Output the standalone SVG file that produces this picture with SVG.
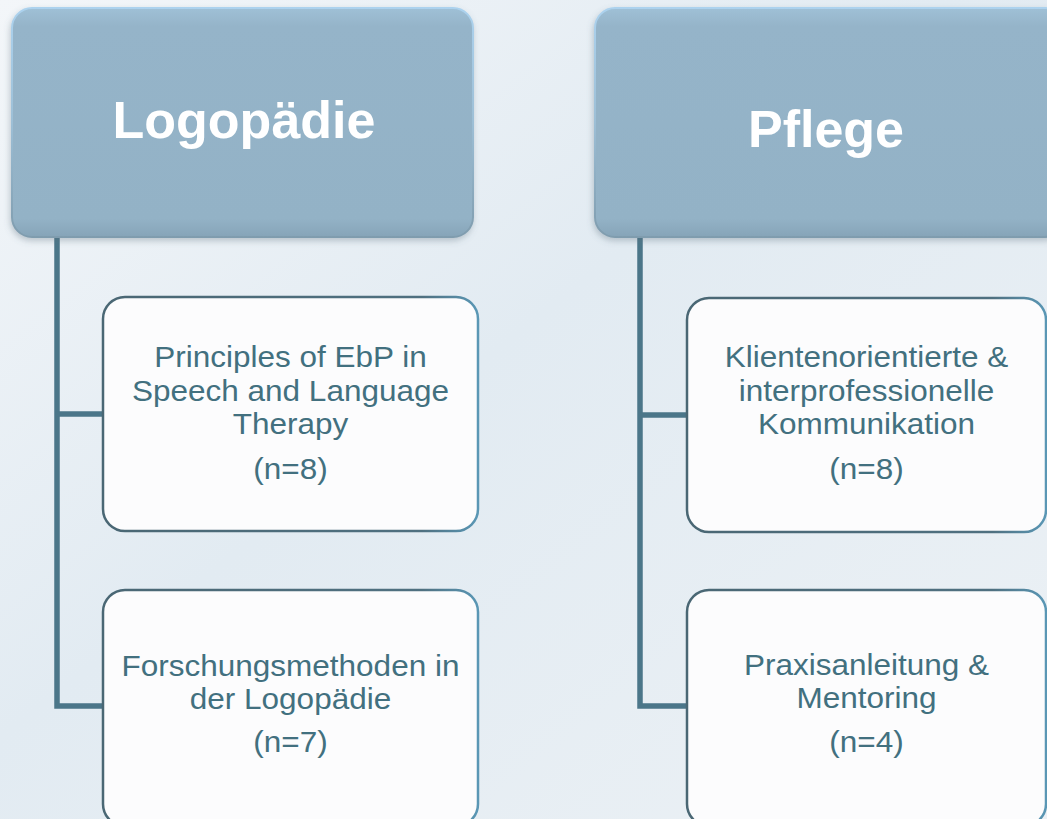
<svg xmlns="http://www.w3.org/2000/svg" width="1047" height="819" viewBox="0 0 1047 819">
  <defs>
    <linearGradient id="bg" x1="0" y1="0" x2="1" y2="1">
      <stop offset="0" stop-color="#f3f6f9"/>
      <stop offset="0.45" stop-color="#e2ebf2"/>
      <stop offset="1" stop-color="#ecf1f5"/>
    </linearGradient>
    <linearGradient id="hdrFill" x1="0" y1="0" x2="0" y2="1">
      <stop offset="0" stop-color="#9fc0d6"/>
      <stop offset="0.08" stop-color="#95b4c9"/>
      <stop offset="0.92" stop-color="#93b2c6"/>
      <stop offset="1" stop-color="#86a4b8"/>
    </linearGradient>
    <linearGradient id="hdrStroke" x1="0" y1="0" x2="0" y2="1">
      <stop offset="0" stop-color="#acd2ee"/>
      <stop offset="0.5" stop-color="#9dbfd6"/>
      <stop offset="1" stop-color="#7f9cae"/>
    </linearGradient>
    <linearGradient id="boxStroke" x1="0" y1="0" x2="1" y2="0">
      <stop offset="0" stop-color="#4a6774"/>
      <stop offset="0.85" stop-color="#4f7080"/>
      <stop offset="1" stop-color="#5a97b5"/>
    </linearGradient>
    <filter id="shadow" x="-10%" y="-10%" width="120%" height="125%">
      <feDropShadow dx="-1" dy="3" stdDeviation="3" flood-color="#5a6f7c" flood-opacity="0.35"/>
    </filter>
    <style>
      .hdr { fill: url(#hdrFill); stroke: url(#hdrStroke); stroke-width: 2; filter: url(#shadow); }
      .hdrText { font-family: "Liberation Sans", Arial, sans-serif; font-weight: bold; font-size: 52px; fill: #ffffff; text-anchor: middle; }
      .box { fill: #fcfcfd; stroke: url(#boxStroke); stroke-width: 2.5; }
      .boxText { font-family: "Liberation Sans", Arial, sans-serif; font-size: 30px; fill: #42707f; text-anchor: middle; }
      .conn { fill: none; stroke: #4b7689; stroke-width: 5.5; stroke-linejoin: miter; }
    </style>
  </defs>

  <rect x="0" y="0" width="1047" height="819" fill="url(#bg)"/>

  <g id="connectors">
    <path class="conn" d="M57 238 V706 H104"/>
    <path class="conn" d="M57 414 H104"/>
    <path class="conn" d="M640 238 V706 H688"/>
    <path class="conn" d="M640 415 H688"/>
  </g>

  <g id="header-logopaedie">
    <rect class="hdr" x="12" y="8" width="461" height="229" rx="20" ry="20"/>
    <text class="hdrText" x="244" y="138">Logopädie</text>
  </g>

  <g id="header-pflege">
    <rect class="hdr" x="595" y="8" width="470" height="229" rx="20" ry="20"/>
    <text class="hdrText" x="826" y="147">Pflege</text>
  </g>

  <g id="node-principles">
    <rect class="box" x="103" y="297" width="375" height="234" rx="22" ry="22"/>
    <g transform="translate(290.5 0) scale(1.05 1)">
      <text class="boxText" x="0" y="367">Principles of EbP in</text>
      <text class="boxText" x="0" y="401">Speech and Language</text>
      <text class="boxText" x="0" y="434">Therapy</text>
      <text class="boxText" x="0" y="479">(n=8)</text>
    </g>
  </g>

  <g id="node-forschung">
    <rect class="box" x="103" y="590" width="375" height="236" rx="22" ry="22"/>
    <g transform="translate(290.5 0) scale(1.05 1)">
      <text class="boxText" x="0" y="676">Forschungsmethoden in</text>
      <text class="boxText" x="0" y="709">der Logopädie</text>
      <text class="boxText" x="0" y="752">(n=7)</text>
    </g>
  </g>

  <g id="node-kommunikation">
    <rect class="box" x="687" y="298" width="359" height="234" rx="22" ry="22"/>
    <g transform="translate(866.5 0) scale(1.05 1)">
      <text class="boxText" x="0" y="367">Klientenorientierte &amp;</text>
      <text class="boxText" x="0" y="401">interprofessionelle</text>
      <text class="boxText" x="0" y="434">Kommunikation</text>
      <text class="boxText" x="0" y="479">(n=8)</text>
    </g>
  </g>

  <g id="node-praxisanleitung">
    <rect class="box" x="687" y="590" width="359" height="236" rx="22" ry="22"/>
    <g transform="translate(866.5 0) scale(1.05 1)">
      <text class="boxText" x="0" y="675">Praxisanleitung &amp;</text>
      <text class="boxText" x="0" y="708">Mentoring</text>
      <text class="boxText" x="0" y="752">(n=4)</text>
    </g>
  </g>
</svg>
